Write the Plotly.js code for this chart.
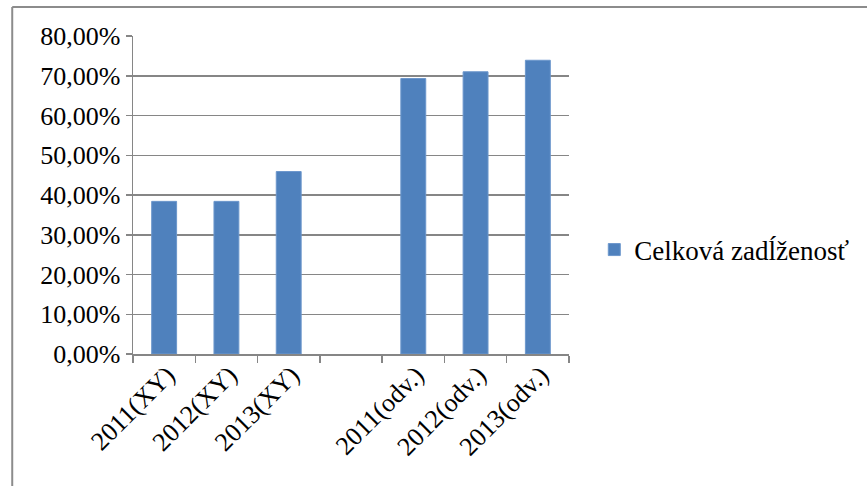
<!DOCTYPE html>
<html>
<head>
<meta charset="utf-8">
<script src="https://cdn.plot.ly/plotly-3.0.1.min.js"></script>
<style>
html,body{margin:0;padding:0;background:#fff;}
#chart{width:867px;height:486px;}
</style>
</head>
<body>
<div id="chart"></div>
<script>
const categories = ["2011(XY)", "2012(XY)", "2013(XY)", " ", "2011(odv.)", "2012(odv.)", "2013(odv.)"];
const values = [0.384, 0.384, 0.459, null, 0.693, 0.710, 0.739];
const seriesName = "Celková zadĺženosť";
const yTicks = [0, 0.1, 0.2, 0.3, 0.4, 0.5, 0.6, 0.7, 0.8];

function mkFont(size) {
  return {family: "Liberation Serif", size: size, color: "#000000"};
}

const trace = {
  type: "bar",
  x: categories,
  y: values,
  name: seriesName,
  showlegend: true,
  marker: {color: "#4F81BD", line: {color: "#6C97CC", width: 1}},
  hoverinfo: "x+y"
};

const layout = {
  width: 867,
  height: 486,
  margin: {l: 133, r: 294, t: 36, b: 132},
  paper_bgcolor: "#fff",
  plot_bgcolor: "#fff",
  separators: ", ",
  font: mkFont(26),
  bargap: 0.6,
  showlegend: true,
  legend: {
    x: 1.058, y: 0.327, xanchor: "left", yanchor: "middle",
    font: mkFont(27), bgcolor: "rgba(0,0,0,0)", itemwidth: 30
  },
  xaxis: {
    type: "category",
    tickangle: -45,
    tickson: "boundaries",
    ticks: "outside",
    ticklen: 7,
    tickcolor: "#868686",
    tickwidth: 1.5,
    showline: true,
    linecolor: "#868686",
    linewidth: 1.5,
    showgrid: false,
    tickfont: mkFont(26),
    ticklabelstandoff: -6,
    ticklabelshift: 3,
    fixedrange: true
  },
  yaxis: {
    range: [0, 0.8],
    tickvals: yTicks,
    tickformat: ".2%",
    ticks: "outside",
    ticklen: 6,
    tickcolor: "#868686",
    tickwidth: 1.5,
    showline: true,
    linecolor: "#868686",
    linewidth: 1.5,
    showgrid: true,
    gridcolor: "#868686",
    gridwidth: 1.5,
    zeroline: false,
    tickfont: mkFont(26),
    fixedrange: true
  },
  shapes: [
    {type: "line", xref: "paper", yref: "paper", x0: -0.277, x1: 1.8, y0: 1.091, y1: 1.091,
     line: {color: "#8c8c8c", width: 2}},
    {type: "line", xref: "paper", yref: "paper", x0: -0.277, x1: -0.277, y0: 1.091, y1: -0.5,
     line: {color: "#8c8c8c", width: 2}}
  ]
};

Plotly.newPlot("chart", [trace], layout, {displayModeBar: false, staticPlot: true});
</script>
</body>
</html>
